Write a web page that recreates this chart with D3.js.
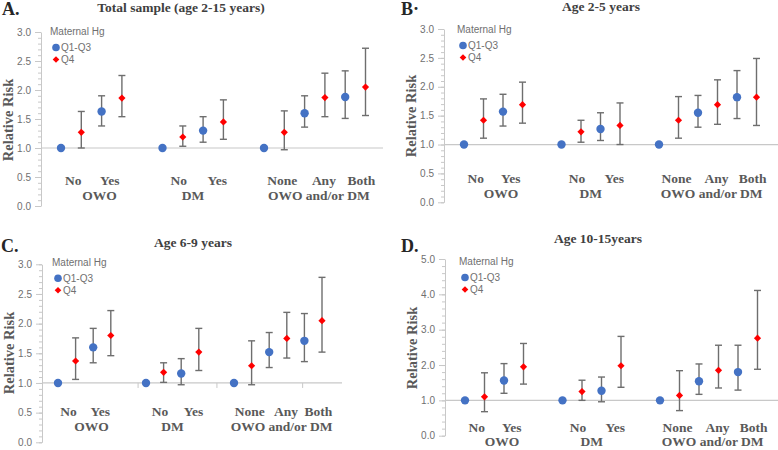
<!DOCTYPE html>
<html><head><meta charset="utf-8">
<script src="https://cdn.jsdelivr.net/npm/d3@7"></script>
<style>body{margin:0;background:#fff}svg{display:block}</style>
</head><body>
<svg id="c" width="778" height="450"></svg>
<script>
// ---------- data ----------
const panelLetters = ["A.", "B·", "C.", "D."];
const panelTitles = ["Total sample (age 2-15 years)", "Age 2-5 years", "Age 6-9 years", "Age 10-15years"];
const subCategories = ["No", "Yes", "No", "Yes", "None", "Any", "Both"];
const groupLabels = ["OWO", "DM", "OWO and/or DM"];
const seriesNames = ["Q1-Q3", "Q4"];
const legendTitle = "Maternal Hg";
const yAxisLabel = "Relative Risk";
const yMaxes = [3, 3, 3, 5];
const yTickSteps = [0.5, 0.5, 0.5, 1.0];

// Q1-Q3 (blue)
const blueRR = [
  [1.00, 1.63, 1.00, 1.30, 1.00, 1.60, 1.88],
  [1.00, 1.57, 1.00, 1.27, 1.00, 1.55, 1.82],
  [1.00, 1.60, 1.00, 1.16, 1.00, 1.52, 1.71],
  [1.00, 1.56, 1.00, 1.27, 1.00, 1.54, 1.80]
];
const blueLo = [
  [null, 1.38, null, 1.10, null, 1.36, 1.51],
  [null, 1.32, null, 1.07, null, 1.30, 1.45],
  [null, 1.34, null, 0.97, null, 1.26, 1.36],
  [null, 1.20, null, 0.96, null, 1.17, 1.29]
];
const blueHi = [
  [null, 1.90, null, 1.54, null, 1.90, 2.33],
  [null, 1.87, null, 1.55, null, 1.85, 2.28],
  [null, 1.92, null, 1.41, null, 1.85, 2.17],
  [null, 2.04, null, 1.66, null, 2.03, 2.56]
];
// Q4 (red)
const redRR = [
  [1.27, 1.86, 1.19, 1.45, 1.27, 1.87, 2.05],
  [1.42, 1.69, 1.22, 1.33, 1.42, 1.69, 1.82],
  [1.37, 1.80, 1.18, 1.52, 1.29, 1.75, 2.05],
  [1.10, 1.95, 1.25, 1.98, 1.14, 1.85, 2.76]
];
const redLo = [
  [1.00, 1.54, 1.03, 1.15, 0.97, 1.54, 1.56],
  [1.11, 1.37, 1.04, 1.00, 1.11, 1.35, 1.33],
  [1.06, 1.46, 1.01, 1.21, 0.97, 1.42, 1.52],
  [0.68, 1.46, 1.00, 1.37, 0.71, 1.35, 1.88]
];
const redHi = [
  [1.63, 2.25, 1.38, 1.83, 1.64, 2.29, 2.72],
  [1.79, 2.08, 1.42, 1.72, 1.83, 2.12, 2.49],
  [1.76, 2.22, 1.34, 1.92, 1.71, 2.19, 2.78],
  [1.78, 2.61, 1.57, 2.81, 1.84, 2.56, 4.11]
];

// ---------- layout ----------
const slotOfCat = [0, 2, 5, 7, 10, 12, 14];   // blue slot; red = slot+1
const subLabelSlot = [0.6, 2.4, 5.8, 7.7, 10.9, 12.95, 14.8];
const groupLabelSlot = [1.9, 6.5, 12.7];
const layouts = [
  {axisX: 41, y0: 206, yTop: 32, slot0: 61, step: 20.3, xEnd: 383, minor: 0.1, rows: [37, 52],
   letter: [2, 15], title: [181, 12], ylab: [13, 120], leg: [9, 3]},
  {axisX: 444, y0: 202.3, yTop: 29, slot0: 464, step: 19.5, xEnd: 778, minor: 0.1, rows: [38, 53],
   letter: [401, 15], title: [601, 11], ylab: [416, 116], leg: [13, 4]},
  {axisX: 42, y0: 442.3, yTop: 264.3, slot0: 58, step: 17.6, xEnd: 342, minor: 0.1, rows: [33, 48],
   letter: [1, 252], title: [193, 247], ylab: [14, 353], leg: [10, 1.5], catTicks: [4.55, 9.03, 13.9]},
  {axisX: 445, y0: 435.7, yTop: 259, slot0: 465, step: 19.5, xEnd: 778, minor: 0.2, rows: [32, 45.5],
   letter: [401, 252], title: [598, 243], ylab: [417, 348], leg: [14, 6]}
];

const BLUE = "#4472C4", RED = "#FF0000", ERR = "#6e6e6e", GRID = "#c8c8c8";
const SERIF = "'Liberation Serif','Times New Roman',serif";
const SANS = "'Liberation Sans',Arial,sans-serif";

const svg = d3.select("#c");

layouts.forEach((L, p) => {
  const g = svg.append("g");
  const y = d3.scaleLinear().domain([0, yMaxes[p]]).range([L.y0, L.yTop]);
  const x = d3.scaleLinear().domain([0, 15]).range([L.slot0, L.slot0 + 15 * L.step]);

  // minor ticks
  const minorVals = d3.range(0, yMaxes[p] + 1e-9, L.minor).map(v => +v.toFixed(2));
  const minorAxis = d3.axisLeft(y).tickValues(minorVals).tickSize(3).tickFormat("");
  const ma = g.append("g").attr("transform", `translate(${L.axisX},0)`).call(minorAxis);
  ma.select(".domain").remove();
  ma.selectAll("line").attr("stroke", GRID);

  const majorVals = d3.range(0, yMaxes[p] + 1e-9, yTickSteps[p]).map(v => +v.toFixed(2));
  const yAxis = d3.axisLeft(y).tickValues(majorVals).tickSize(6).tickSizeOuter(0).tickPadding(4).tickFormat(d3.format(".1f"));
  const ya = g.append("g").attr("transform", `translate(${L.axisX},0)`).call(yAxis);
  ya.select(".domain").attr("stroke", GRID);
  ya.selectAll("line").attr("stroke", GRID);
  ya.selectAll("text").attr("fill", "#707070").style("font-family", SANS).style("font-size", "10px");

  // baseline at RR = 1
  g.append("line").attr("x1", L.axisX).attr("x2", L.xEnd)
    .attr("y1", y(1)).attr("y2", y(1)).attr("stroke", GRID).attr("stroke-width", 1.2);
  if (L.catTicks) {
    g.selectAll(".ct").data(L.catTicks).enter().append("line")
      .attr("x1", d => x(d)).attr("x2", d => x(d))
      .attr("y1", y(1)).attr("y2", y(1) + 5).attr("stroke", GRID);
  }

  // error bars
  const bars = [];
  subCategories.forEach((c, i) => {
    if (blueLo[p][i] != null) bars.push({s: slotOfCat[i], lo: blueLo[p][i], hi: blueHi[p][i]});
    bars.push({s: slotOfCat[i] + 1, lo: redLo[p][i], hi: redHi[p][i]});
  });
  const eb = g.selectAll(".eb").data(bars).enter().append("g");
  eb.append("line").attr("x1", d => x(d.s)).attr("x2", d => x(d.s))
    .attr("y1", d => y(d.lo)).attr("y2", d => y(d.hi)).attr("stroke", ERR).attr("stroke-width", 1.4);
  ["lo", "hi"].forEach(k => {
    eb.append("line").attr("x1", d => x(d.s) - 3.5).attr("x2", d => x(d.s) + 3.5)
      .attr("y1", d => y(d[k])).attr("y2", d => y(d[k])).attr("stroke", ERR).attr("stroke-width", 1.4);
  });

  // points
  g.selectAll(".bp").data(blueRR[p]).enter().append("circle")
    .attr("cx", (d, i) => x(slotOfCat[i])).attr("cy", d => y(d)).attr("r", 4.2).attr("fill", BLUE);
  g.selectAll(".rp").data(redRR[p]).enter().append("path")
    .attr("transform", (d, i) => `translate(${x(slotOfCat[i] + 1)},${y(d)})`)
    .attr("d", "M0,-3.6L3.6,0L0,3.6L-3.6,0Z").attr("fill", RED);

  // category labels
  const yb = y(1);
  g.selectAll(".sl").data(subCategories).enter().append("text")
    .attr("x", (d, i) => x(subLabelSlot[i])).attr("y", yb + L.rows[0])
    .attr("text-anchor", "middle").attr("fill", "#595959")
    .style("font-family", SERIF).style("font-weight", "bold").style("font-size", "13.5px").text(d => d);
  g.selectAll(".gl").data(groupLabels).enter().append("text")
    .attr("x", (d, i) => x(groupLabelSlot[i])).attr("y", yb + L.rows[1])
    .attr("text-anchor", "middle").attr("fill", "#595959")
    .style("font-family", SERIF).style("font-weight", "bold").style("font-size", "13.5px").text(d => d);

  // y label
  g.append("text").attr("transform", `translate(${L.ylab[0]},${L.ylab[1]}) rotate(-90)`)
    .attr("text-anchor", "middle").attr("fill", "#595959")
    .style("font-family", SERIF).style("font-weight", "bold").style("font-size", "14.5px").text(yAxisLabel);

  // title + letter
  g.append("text").attr("x", L.title[0]).attr("y", L.title[1]).attr("text-anchor", "middle")
    .attr("fill", "#404040").style("font-family", SERIF).style("font-weight", "bold").style("font-size", "13.5px")
    .text(panelTitles[p]);
  g.append("text").attr("x", L.letter[0]).attr("y", L.letter[1])
    .attr("fill", "#262626").style("font-family", SERIF).style("font-weight", "bold").style("font-size", "18px")
    .text(panelLetters[p]);

  // legend
  const lx = L.axisX + L.leg[0], ly = L.yTop + L.leg[1];
  const lg = g.append("g").style("font-family", SANS).style("font-size", "10px").attr("fill", "#707070");
  lg.append("text").attr("x", lx).attr("y", ly).text(legendTitle);
  lg.append("circle").attr("cx", lx + 6).attr("cy", ly + 12.5).attr("r", 3.8).attr("fill", BLUE);
  lg.append("text").attr("x", lx + 11).attr("y", ly + 16.3).text(seriesNames[0]);
  lg.append("path").attr("transform", `translate(${lx + 6},${ly + 24.5})`)
    .attr("d", "M0,-3.3L3.3,0L0,3.3L-3.3,0Z").attr("fill", RED);
  lg.append("text").attr("x", lx + 11).attr("y", ly + 28.3).text(seriesNames[1]);
});
</script>
</body></html>
